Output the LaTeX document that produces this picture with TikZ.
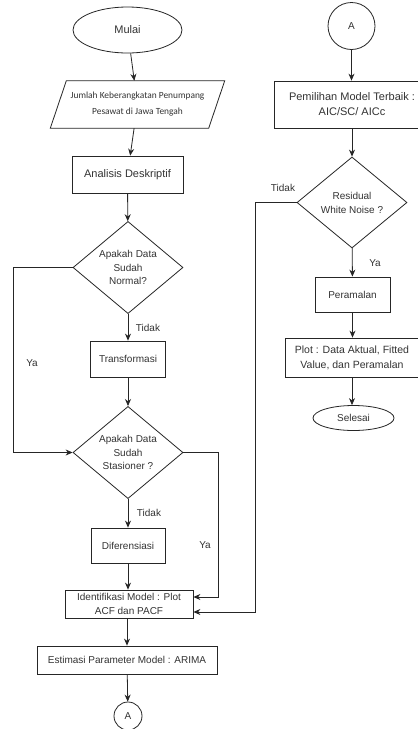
\documentclass[tikz,border=0pt]{standalone}
\usepackage{fontspec}
\setmainfont{Liberation Sans}
\newfontfamily\calib{Carlito}
\usetikzlibrary{shapes.geometric,arrows.meta,calc}
\definecolor{txt}{HTML}{333333}
\tikzset{
  base/.style={draw=black!85, line width=0.8pt, text=txt, align=center, inner sep=1pt},
  proc/.style={base, rectangle},
  dec/.style={base, diamond, inner sep=0pt},
  term/.style={base, ellipse, inner sep=0pt},
  conn/.style={base, circle, inner sep=0pt},
  lbl/.style={text=txt, font=\fontsize{10}{12}\selectfont},
  arr/.style={draw=black!85, line width=0.8pt, -{Stealth[length=7pt,width=6pt]}},
  ln/.style={draw=black!85, line width=0.8pt},
  f10/.style={font=\fontsize{10}{13.5}\selectfont},
  f11/.style={font=\fontsize{11}{15}\selectfont},
}
\begin{document}
\begin{tikzpicture}[x=1pt,y=-1pt]
\useasboundingbox (0,0) rectangle (418,729);
\clip (0,0) rectangle (418,729);
\fill[white] (0,0) rectangle (418,729);

% left column
\node[term, f11, minimum width=109pt, minimum height=46pt] (mulai) at (127.5,30) {Mulai};
\node[text=txt, align=center, inner sep=0pt, minimum width=158pt, minimum height=47pt,
      font=\calib\fontsize{9.4}{16}\selectfont] (data) at (137.5,104.5)
      {Jumlah Keberangkatan Penumpang\\Pesawat di Jawa Tengah};
\draw[ln] ($(data.north west)+(8,0)$) -- ($(data.north east)+(8,0)$)
  -- ($(data.south east)+(-8,0)$) -- ($(data.south west)+(-8,0)$) -- cycle;
\node[proc, f11, minimum width=111pt, minimum height=37pt] (anal) at (127.5,174.5) {Analisis Deskriptif};
\node[dec, f10, minimum width=110pt, minimum height=91pt] (d1) at (128,267.5) {Apakah Data\\Sudah\\Normal?};
\node[proc, f10, minimum width=75pt, minimum height=36pt] (trans) at (128,359) {Transformasi};
\node[dec, f10, minimum width=110pt, minimum height=91pt] (d2) at (128,452.5) {Apakah Data\\Sudah\\Stasioner ?};
\node[proc, f10, minimum width=74pt, minimum height=35pt] (dif) at (128,545.5) {Diferensiasi};
\node[proc, font=\fontsize{10}{14}\selectfont, minimum width=128pt, minimum height=28pt] (ident) at (129,604)
  {Identifikasi Model : Plot\\ACF dan PACF};
\node[proc, f10, minimum width=180pt, minimum height=28pt] (est) at (127,660) {Estimasi Parameter Model : ARIMA};
\node[conn, f10, minimum size=28pt] (a1) at (128,716) {A};

% right column
\node[conn, f10, minimum size=47pt] (a2) at (351.5,26) {A};
\node[proc, f11, minimum width=156pt, minimum height=47pt] (pilih) at (352,104.5)
  {Pemilihan Model Terbaik :\\AIC/SC/ AICc};
\node[dec, font=\fontsize{10}{14}\selectfont, minimum width=110pt, minimum height=91pt] (d3) at (352,202.5)
  {Residual\\White Noise ?};
\node[proc, f10, minimum width=75pt, minimum height=35pt] (peram) at (352.5,294.5) {Peramalan};
\node[proc, font=\fontsize{10.5}{15}\selectfont, minimum width=134pt, minimum height=39pt] (plot) at (352,357.5)
  {Plot : Data Aktual, Fitted\\Value, dan Peramalan};
\node[term, f10, minimum width=81pt, minimum height=25pt] (sel) at (353.5,418) {Selesai};

% helper coordinates
\coordinate (l1) at (13,267.5);
\coordinate (l2) at (13,452.5);
\coordinate (r1) at (218,452.5);
\coordinate (r2) at (218,597);
\coordinate (s1) at (255,202.5);
\coordinate (s2) at (255,612);

% connectors left
\draw[arr] (mulai) -- (data);
\draw[arr] (data) -- (anal);
\draw[arr] (anal) -- (d1);
\draw[arr] (d1) -- (trans);
\draw[arr] (trans) -- (d2);
\draw[arr] (d2) -- (dif);
\draw[arr] (dif) -- (dif |- ident.north);
\draw[arr] (ident.south -| est) -- (est);
\draw[arr] (est) -- (a1);
\draw[arr] (d1.west) -- (l1) -- (l2) -- (d2.west);
\draw[arr] (d2.east) -- (r1) -- (r2) -- (r2 -| ident.east);

% connectors right
\draw[arr] (a2) -- (a2 |- pilih.north);
\draw[arr] (pilih) -- (d3);
\draw[arr] (d3) -- (peram);
\draw[arr] (peram) -- (peram |- plot.north);
\draw[arr] (plot) -- (plot |- sel.north);
\draw[arr] (d3.west) -- (s1) -- (s2) -- (s2 -| ident.east);

% labels
\node[lbl] (t1) at (148,328) {Tidak};
\node[lbl] (y1) at (32,363) {Ya};
\node[lbl] (t2) at (149,513) {Tidak};
\node[lbl] (y2) at (205,545) {Ya};
\node[lbl] (t3) at (283,188) {Tidak};
\node[lbl] (y3) at (375,263) {Ya};
\end{tikzpicture}
\end{document}
